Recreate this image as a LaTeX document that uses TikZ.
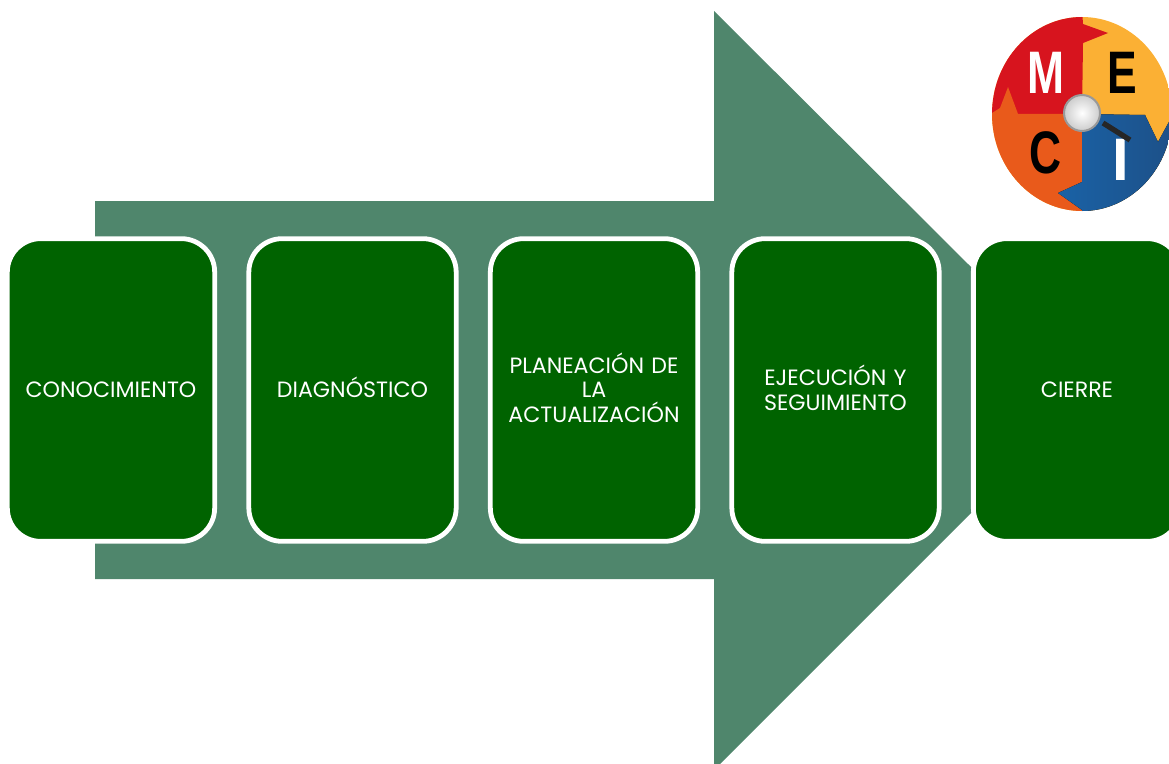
\documentclass[tikz,border=0pt]{standalone}
\usepackage{fontspec}
\setmainfont{Poppins}
\newfontfamily\logofont{Liberation Sans}
\definecolor{arrowgreen}{HTML}{4F866C}
\definecolor{stagegreen}{HTML}{006300}
\definecolor{logored}{HTML}{D7141E}
\definecolor{logoyellow}{HTML}{FBB034}
\definecolor{logoorange}{HTML}{E95A1B}
\definecolor{logoblue}{HTML}{1A62A6}
\definecolor{logodark}{HTML}{1D4F86}

\newcommand\drawstages{
  \node[stage] (conocimiento) at (111,390) {CONOCIMIENTO};
  \node[stage] (diagnostico) at (352.5,390) {DIAGN\smash{Ó}STICO};
  \node[stage] (planeacion) at (594,390) {PLANEACI\smash{Ó}N DE\\LA\\ACTUALIZACI\smash{Ó}N};
  \node[stage] (ejecucion) at (835.5,390) {EJECUCI\smash{Ó}N Y\\SEGUIMIENTO};
  \node[stage] (cierre) at (1077,390) {CIERRE};
}

\begin{document}
\begin{tikzpicture}[
    x=0.75pt,y=-0.75pt,
    stage/.style={draw=white,line width=3.6pt,fill=stagegreen,rounded corners=25pt,
      minimum width=155.5pt,minimum height=227pt,text width=140pt,align=center,
      text=white,inner sep=0pt,font=\fontsize{16.6pt}{18.4pt}\selectfont},
    logoletter/.style={inner sep=0pt,xscale=0.74,font=\logofont\bfseries\fontsize{45pt}{45pt}\selectfont}
  ]
    \useasboundingbox (0,0) rectangle (1169,763);

    % big arrow
    \fill[arrowgreen] (95,201) -- (714,201) -- (714,11) -- (972,268) -- (972,512)
      -- (714,770) -- (714,579) -- (95,579) -- cycle;

    \drawstages

    % logo
    \begin{scope}
      \clip (1082,114) ellipse [x radius=90,y radius=97];
      \fill[logoyellow] (980,10) rectangle (1180,220);
      \fill[logored] (980,10) -- (1082,10) -- (1083,24) -- (1108,33) -- (1083,43)
        -- (1082,114) -- (980,114) -- cycle;
      \fill[logoorange] (980,220) -- (980,114) -- (992,113) -- (1000,108) -- (1008,87)
        -- (1018,114) -- (1082,114) -- (1082,220) -- cycle;
      \fill[left color=logoblue,right color=logodark] (1082,114) -- (1145,115) -- (1158,142)
        -- (1170,120) -- (1180,220) -- (1082,220) -- (1082,210) -- (1058,193) -- (1082,182) -- cycle;
    \end{scope}

    \node[logoletter,text=white] (letterM) at (1046,73) {M};
    \node[logoletter,text=black] (letterE) at (1122,73) {E};
    \node[logoletter,text=black] (letterC) at (1046,153) {C};
    \node[logoletter,text=white,xscale=1.35] (letterI) at (1121,160) {I};

    % magnifier
    \draw[line width=4pt,black!85] (1103,123) -- (1130,140);
    \node[circle,minimum size=27pt,inner sep=0pt,draw=black!40,line width=1.5pt,
      inner color=white,outer color=black!20] (lens) at (1082,113) {};
\end{tikzpicture}
\end{document}
